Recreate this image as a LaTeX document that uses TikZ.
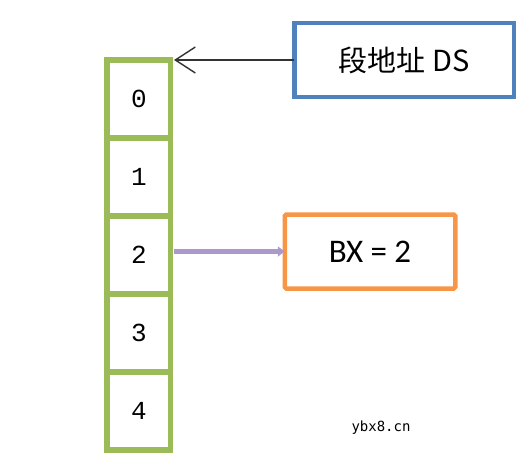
\documentclass[tikz,border=0pt]{standalone}
\usepackage{fontspec}
\usepackage{xcolor}
\usepackage{tikz}
\usetikzlibrary{arrows.meta,positioning}

\newfontfamily\cjk{Noto Sans CJK SC}
\newfontfamily\calfont{Carlito}
\newfontfamily\digfont{Liberation Mono}
\newfontfamily\wmfont{DejaVu Sans Mono}

\definecolor{cellgreen}{HTML}{9BBB59}
\definecolor{segblue}{HTML}{4F81BD}
\definecolor{regorange}{HTML}{F79646}
\definecolor{lavender}{HTML}{AD98CC}

\begin{document}
\begin{tikzpicture}[x=1pt, y=-1pt,
    cell/.style={rectangle, draw=cellgreen, line width=5.5pt, outer sep=0pt, minimum width=63.5pt, minimum height=78pt, font=\digfont\fontsize{26}{28}\selectfont},
    segbox/.style={rectangle, draw=segblue, line width=4.5pt, outer sep=0pt, minimum width=219.5pt, minimum height=74pt, font=\cjk\fontsize{29}{34}\selectfont},
    regbox/.style={rectangle, draw=regorange, line width=4.5pt, outer sep=0pt, rounded corners=1.5pt, minimum width=170.5pt, minimum height=74pt, font=\calfont\fontsize{33}{36}\selectfont},
    pointer/.style={-{Straight Barb[length=20pt, width=26pt]}, line width=1.4pt, black!80},
    offset/.style={-{Triangle[length=7pt, width=10pt]}, line width=5pt, lavender}
]
    \useasboundingbox (0,0) rectangle (529,458);

    % Memory cells
    \foreach \i in {0,...,4}
        \node[cell] (c\i) at (138.8, {99+78*\i}) {\i};

    % Segment address
    \node[segbox] (ds) at (404,60) {段地址 DS};

    % Offset register
    \node[regbox] (bx) at (370,251.5) {BX = 2};

    % Arrows
    \draw[pointer] (ds.west) -- ([xshift=3.5pt]c0.north east);
    \draw[offset] ([xshift=3.5pt]c2.east |- bx.west) -- (bx.west);

    % Watermark
    \node[font=\wmfont\fontsize{14}{16}\selectfont] (mark) at (381,428) {ybx8.cn};
\end{tikzpicture}
\end{document}
